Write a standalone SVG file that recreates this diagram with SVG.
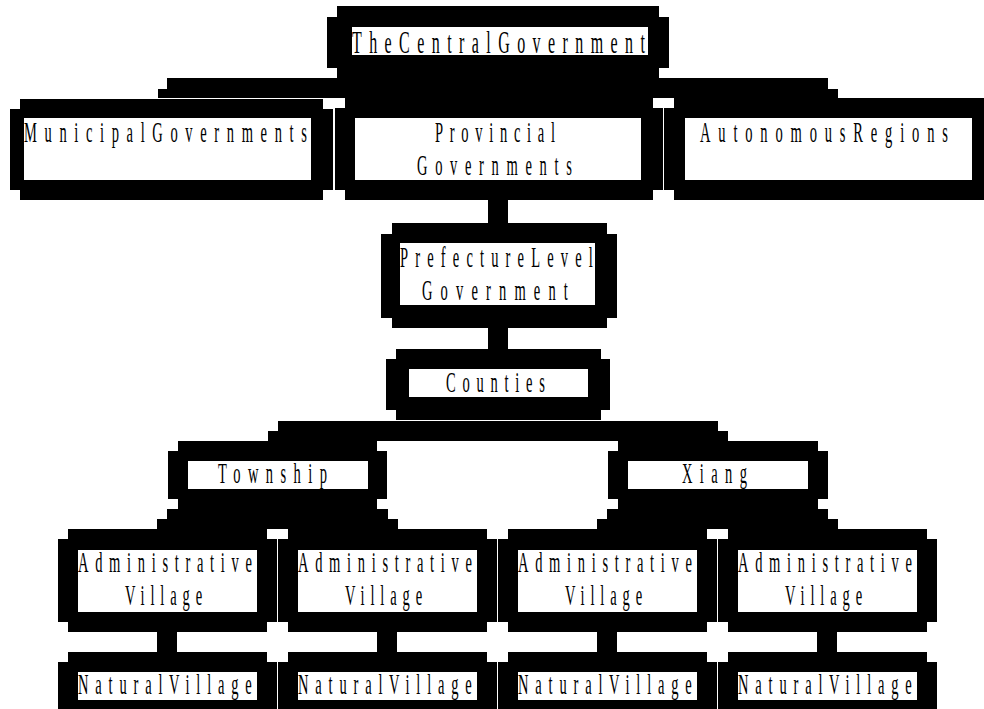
<svg xmlns="http://www.w3.org/2000/svg" width="984" height="709" viewBox="0 0 984 709">
<style>
.b{fill:#000}
.w{fill:#fff}
.t{font-family:"Liberation Serif","Times New Roman",serif;font-size:29px;fill:#000}
</style>
<rect x="0" y="0" width="984" height="709" fill="#fff"/>
<g id="connectors" class="b">
<rect x="167" y="78" width="661" height="20"/>
<rect x="158" y="89" width="680" height="9"/>
<rect x="488" y="199" width="20" height="25"/>
<rect x="488" y="327" width="20" height="23"/>
<rect x="278" y="421" width="440" height="20"/>
<rect x="268" y="431" width="460" height="10"/>
<rect x="167" y="509" width="221" height="20"/>
<rect x="157" y="519" width="241" height="10"/>
<rect x="607" y="509" width="221" height="20"/>
<rect x="597" y="519" width="241" height="10"/>
<rect x="157" y="631" width="20" height="22"/>
<rect x="377" y="631" width="20" height="22"/>
<rect x="597" y="631" width="20" height="22"/>
<rect x="817" y="631" width="20" height="22"/>
</g>
<g id="central">
<path class="b" d="M337,6 H659 V17 H669 V68 H659 V78 H337 V68 H327 V17 H337 Z"/>
<rect class="w" x="352" y="27" width="296" height="28"/>
<text class="t" style="font-size:32px;letter-spacing:14.85px;word-spacing:-22.85px" transform="scale(0.5,1)" x="704" y="53">The Central Government</text>
</g>
<g id="municipal">
<path class="b" d="M20,99 H323 V109 H333 V190 H323 V200 H20 V190 H10 V109 H20 Z"/>
<rect class="w" x="24" y="118" width="287" height="62"/>
<text class="t" style="letter-spacing:15.29px;word-spacing:-22.54px" transform="scale(0.5,1)" x="48" y="142">Municipal Governments</text>
</g>
<g id="provincial">
<path class="b" d="M345,98 H653 V108 H663 V190 H653 V200 H345 V190 H335 V108 H345 Z"/>
<rect class="w" x="355" y="118" width="286" height="62"/>
<text class="t" transform="scale(0.5,1)" y="142"><tspan x="870" style="letter-spacing:13.42px">Provincial</tspan><tspan x="834" y="175" style="letter-spacing:15.37px">Governments</tspan></text>
</g>
<g id="autonomous">
<path class="b" d="M674,98 H990 V200 H674 V190 H664 V108 H674 Z"/>
<rect class="w" x="685" y="118" width="287" height="62"/>
<text class="t" style="letter-spacing:15.69px;word-spacing:-22.94px" transform="scale(0.5,1)" x="1400" y="142">Autonomous Regions</text>
</g>
<g id="prefecture">
<path class="b" d="M392,223 H607 V234 H617 V318 H607 V328 H392 V318 H381 V234 H392 Z"/>
<rect class="w" x="400" y="243" width="195" height="62"/>
<text class="t" transform="scale(0.5,1)" y="267"><tspan x="800" style="letter-spacing:14.34px;word-spacing:-21.59px">Prefecture Level</tspan><tspan x="844" y="300" style="letter-spacing:16.33px">Government</tspan></text>
</g>
<g id="counties">
<path class="b" d="M396,349 H601 V359 H610 V410 H601 V420 H396 V410 H386 V359 H396 Z"/>
<rect class="w" x="409" y="369" width="179" height="28"/>
<text class="t" style="letter-spacing:13.56px" transform="scale(0.5,1)" x="892" y="392">Counties</text>
</g>
<g id="township">
<path class="b" d="M178,441 H377 V451 H387 V499 H377 V509 H178 V499 H168 V451 H178 Z"/>
<rect class="w" x="188" y="461" width="180" height="28"/>
<text class="t" style="letter-spacing:14.86px" transform="scale(0.5,1)" x="436" y="483">Township</text>
</g>
<g id="xiang">
<path class="b" d="M618,441 H818 V451 H828 V499 H818 V509 H618 V499 H608 V451 H618 Z"/>
<rect class="w" x="628" y="461" width="180" height="28"/>
<text class="t" style="letter-spacing:14.78px" transform="scale(0.5,1)" x="1364" y="483">Xiang</text>
</g>
<g id="admin1">
<path class="b" d="M68,529 H267 V539 H277 V622 H267 V632 H68 V622 H58 V539 H68 Z"/>
<rect class="w" x="78" y="550" width="179" height="62"/>
<text class="t" transform="scale(0.5,1)" y="572"><tspan x="156" style="letter-spacing:13.38px">Administrative</tspan><tspan x="250" y="605" style="letter-spacing:11.77px">Village</tspan></text>
</g>
<g id="admin2">
<path class="b" d="M288,529 H487 V539 H497 V622 H487 V632 H288 V622 H278 V539 H288 Z"/>
<rect class="w" x="298" y="550" width="179" height="62"/>
<text class="t" transform="scale(0.5,1)" y="572"><tspan x="596" style="letter-spacing:13.38px">Administrative</tspan><tspan x="690" y="605" style="letter-spacing:11.77px">Village</tspan></text>
</g>
<g id="admin3">
<path class="b" d="M508,529 H707 V539 H717 V622 H707 V632 H508 V622 H498 V539 H508 Z"/>
<rect class="w" x="518" y="550" width="179" height="62"/>
<text class="t" transform="scale(0.5,1)" y="572"><tspan x="1036" style="letter-spacing:13.38px">Administrative</tspan><tspan x="1130" y="605" style="letter-spacing:11.77px">Village</tspan></text>
</g>
<g id="admin4">
<path class="b" d="M728,529 H927 V539 H937 V622 H927 V632 H728 V622 H718 V539 H728 Z"/>
<rect class="w" x="738" y="550" width="179" height="62"/>
<text class="t" transform="scale(0.5,1)" y="572"><tspan x="1476" style="letter-spacing:13.38px">Administrative</tspan><tspan x="1570" y="605" style="letter-spacing:11.77px">Village</tspan></text>
</g>
<g id="natural1">
<path class="b" d="M68,652 H267 V662 H277 V720 H58 V662 H68 Z"/>
<rect class="w" x="78" y="672" width="179" height="28"/>
<text class="t" style="letter-spacing:13.67px;word-spacing:-20.92px" transform="scale(0.5,1)" x="156" y="694">Natural Village</text>
</g>
<g id="natural2">
<path class="b" d="M288,652 H487 V662 H497 V720 H278 V662 H288 Z"/>
<rect class="w" x="298" y="672" width="179" height="28"/>
<text class="t" style="letter-spacing:13.67px;word-spacing:-20.92px" transform="scale(0.5,1)" x="596" y="694">Natural Village</text>
</g>
<g id="natural3">
<path class="b" d="M508,652 H707 V662 H717 V720 H498 V662 H508 Z"/>
<rect class="w" x="518" y="672" width="179" height="28"/>
<text class="t" style="letter-spacing:13.67px;word-spacing:-20.92px" transform="scale(0.5,1)" x="1036" y="694">Natural Village</text>
</g>
<g id="natural4">
<path class="b" d="M728,652 H927 V662 H937 V720 H718 V662 H728 Z"/>
<rect class="w" x="738" y="672" width="179" height="28"/>
<text class="t" style="letter-spacing:13.67px;word-spacing:-20.92px" transform="scale(0.5,1)" x="1476" y="694">Natural Village</text>
</g>
</svg>
